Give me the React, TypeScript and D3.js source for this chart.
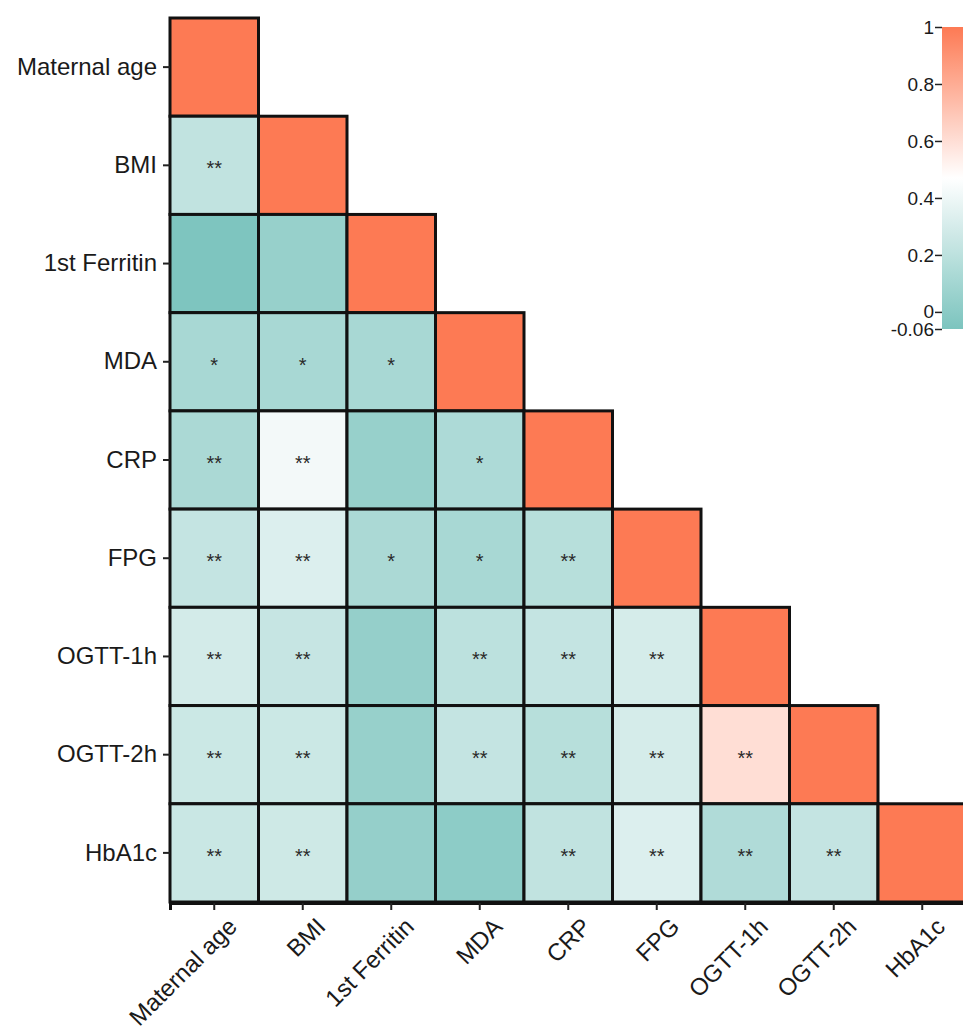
import React, { useEffect, useRef } from 'react';
import * as d3 from 'd3';

const variables = ['Maternal age', 'BMI', '1st Ferritin', 'MDA', 'CRP', 'FPG', 'OGTT-1h', 'OGTT-2h', 'HbA1c'];

// lower triangle, row by row (row i has i+1 values, last is the diagonal)
const corrRows = [
  [1],
  [0.22, 1],
  [-0.05, 0.05, 1],
  [0.12, 0.12, 0.12, 1],
  [0.13, 0.42, 0.05, 0.14, 1],
  [0.23, 0.33, 0.13, 0.12, 0.18, 1],
  [0.29, 0.24, 0.04, 0.2, 0.23, 0.3, 1],
  [0.26, 0.26, 0.05, 0.23, 0.18, 0.3, 0.6, 1],
  [0.25, 0.27, 0.04, 0.01, 0.22, 0.33, 0.15, 0.23, 1],
];

const sigRows = [
  [''],
  ['**', ''],
  ['', '', ''],
  ['*', '*', '*', ''],
  ['**', '**', '', '*', ''],
  ['**', '**', '*', '*', '**', ''],
  ['**', '**', '', '**', '**', '**', ''],
  ['**', '**', '', '**', '**', '**', '**', ''],
  ['**', '**', '', '', '**', '**', '**', '**', ''],
];

const legendTicks = [1, 0.8, 0.6, 0.4, 0.2, 0, -0.06];

const font = '"Liberation Sans", Arial, sans-serif';

export default function App() {
  const ref = useRef<SVGSVGElement>(null);

  useEffect(() => {
    const svg = d3.select(ref.current);
    svg.selectAll('*').remove();

    const color = d3.scaleLinear<string>()
      .domain([-0.06, 0.47, 1])
      .range(['#7cc4be', '#ffffff', '#fd7a54'])
      .interpolate(d3.interpolateRgb);

    const x = d3.scaleBand().domain(variables).range([170, 966.5]);
    const y = d3.scaleBand().domain(variables).range([18, 902]);

    const cells: { r: string; c: string; v: number; s: string }[] = [];
    corrRows.forEach((row, i) => {
      row.forEach((v, j) => {
        cells.push({ r: variables[i], c: variables[j], v, s: sigRows[i][j] });
      });
    });

    const g = svg.append('g');
    g.selectAll('rect.cell').data(cells).enter().append('rect')
      .attr('class', 'cell')
      .attr('x', d => x(d.c)!)
      .attr('y', d => y(d.r)!)
      .attr('width', x.bandwidth())
      .attr('height', y.bandwidth())
      .attr('fill', d => color(d.v))
      .attr('stroke', '#111')
      .attr('stroke-width', 3);

    g.selectAll('text.sig').data(cells.filter(d => d.s)).enter().append('text')
      .attr('x', d => x(d.c)! + x.bandwidth() / 2)
      .attr('y', d => y(d.r)! + y.bandwidth() / 2 + 10)
      .attr('text-anchor', 'middle')
      .attr('font-family', font)
      .attr('font-size', 20)
      .attr('fill', '#2a2a2a')
      .text(d => d.s);

    // x axis
    const xAxis = svg.append('g')
      .attr('transform', 'translate(0,903)')
      .call(d3.axisBottom(x).tickSize(7).tickPadding(6));
    xAxis.select('.domain').attr('stroke', '#111').attr('stroke-width', 3);
    xAxis.selectAll('.tick line').attr('stroke', '#222').attr('stroke-width', 2);
    xAxis.selectAll('.tick text')
      .attr('font-family', font)
      .attr('font-size', 24)
      .attr('fill', '#1a1a1a')
      .attr('text-anchor', 'end')
      .attr('dy', '0.35em')
      .attr('transform', 'translate(9,10) rotate(-45)');

    // y axis
    const yAxis = svg.append('g')
      .attr('transform', 'translate(170,0)')
      .call(d3.axisLeft(y).tickSize(7).tickPadding(6));
    yAxis.select('.domain').remove();
    yAxis.selectAll('.tick line').attr('stroke', '#222').attr('stroke-width', 2);
    yAxis.selectAll('.tick text')
      .attr('font-family', font)
      .attr('font-size', 24)
      .attr('fill', '#1a1a1a');

    // legend
    const ly = d3.scaleLinear().domain([-0.06, 1]).range([329, 27]);
    const defs = svg.append('defs');
    const grad = defs.append('linearGradient')
      .attr('id', 'legGrad')
      .attr('x1', 0).attr('y1', 1).attr('x2', 0).attr('y2', 0);
    d3.range(0, 1.0001, 0.05).forEach(t => {
      const v = -0.06 + t * 1.06;
      grad.append('stop').attr('offset', t).attr('stop-color', color(v));
    });
    svg.append('rect')
      .attr('x', 942)
      .attr('y', ly(1))
      .attr('width', 30)
      .attr('height', ly(-0.06) - ly(1))
      .attr('fill', 'url(#legGrad)');
    const lAxis = svg.append('g')
      .attr('transform', 'translate(942,0)')
      .call(d3.axisLeft(ly).tickValues(legendTicks).tickFormat(d => String(d)).tickSize(7).tickPadding(1));
    lAxis.select('.domain').remove();
    lAxis.selectAll('.tick line').attr('stroke', '#222').attr('stroke-width', 1.5);
    lAxis.selectAll('.tick text')
      .attr('font-family', font)
      .attr('font-size', 19)
      .attr('fill', '#1a1a1a');
  }, []);

  return (
    <svg ref={ref} width={963} height={1029}
      style={{ position: 'absolute', left: 0, top: 0, background: '#fff' }} />
  );
}
